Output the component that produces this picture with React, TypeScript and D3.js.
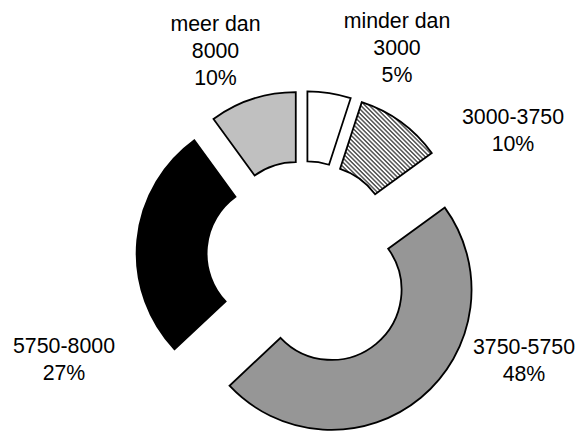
import React from "react";
import * as d3 from "d3";

const categories: string[] = ["minder dan 3000", "3000-3750", "3750-5750", "5750-8000", "meer dan 8000"];
const values: number[] = [5, 10, 48, 27, 10];
const labelLines: string[][] = [
  ["minder dan", "3000", "5%"],
  ["3000-3750", "10%"],
  ["3750-5750", "48%"],
  ["5750-8000", "27%"],
  ["meer dan", "8000", "10%"],
];

// styling / layout
const W = 577;
const H = 434;
const CX = 303.5;
const CY = 256;
const R_OUT = 140;
const R_IN = 70;
const explode = [25, 25.5, 44, 27, 25];
const fills = ["#ffffff", "url(#hatch)", "#969696", "#000000", "#c0c0c0"];
const labelAnchor: [number, number][] = [
  [397, 27.5],
  [513, 123.5],
  [524, 354],
  [64, 352.5],
  [215.5, 30.5],
];
const LINE_H = 27.3;
const FONT = "'Liberation Sans', Arial, sans-serif";

export default function App() {
  const pie = d3
    .pie<number>()
    .sort(null)
    .value((d) => d);
  const arcs = pie(values);
  const arc = d3.arc<d3.PieArcDatum<number>>().innerRadius(R_IN).outerRadius(R_OUT);

  return (
    <svg
      width={W}
      height={H}
      viewBox={`0 0 ${W} ${H}`}
      style={{ position: "absolute", left: 0, top: 0, background: "#fff" }}
    >
      <defs>
        <pattern
          id="hatch"
          patternUnits="userSpaceOnUse"
          width={3.1}
          height={10}
          patternTransform="rotate(-45)"
        >
          <rect width={3.1} height={10} fill="#ffffff" />
          <line x1={0.8} y1={0} x2={0.8} y2={10} stroke="#3a3a3a" strokeWidth={1.3} />
        </pattern>
      </defs>
      <rect width={W} height={H} fill="#fff" />
      {arcs.map((a, i) => {
        const mid = (a.startAngle + a.endAngle) / 2;
        const dx = Math.sin(mid) * explode[i];
        const dy = -Math.cos(mid) * explode[i];
        return (
          <path
            key={categories[i]}
            d={arc(a) || ""}
            transform={`translate(${CX + dx},${CY + dy})`}
            fill={fills[i]}
            stroke="#000"
            strokeWidth={1.8}
            strokeLinejoin="miter"
          />
        );
      })}
      {labelLines.map((lines, i) => (
        <text
          key={"l" + i}
          x={labelAnchor[i][0]}
          y={labelAnchor[i][1]}
          textAnchor="middle"
          fontFamily={FONT}
          fontSize={21.33}
          fill="#000"
        >
          {lines.map((ln, j) => (
            <tspan key={j} x={labelAnchor[i][0]} dy={j === 0 ? 0 : LINE_H}>
              {ln}
            </tspan>
          ))}
        </text>
      ))}
    </svg>
  );
}
